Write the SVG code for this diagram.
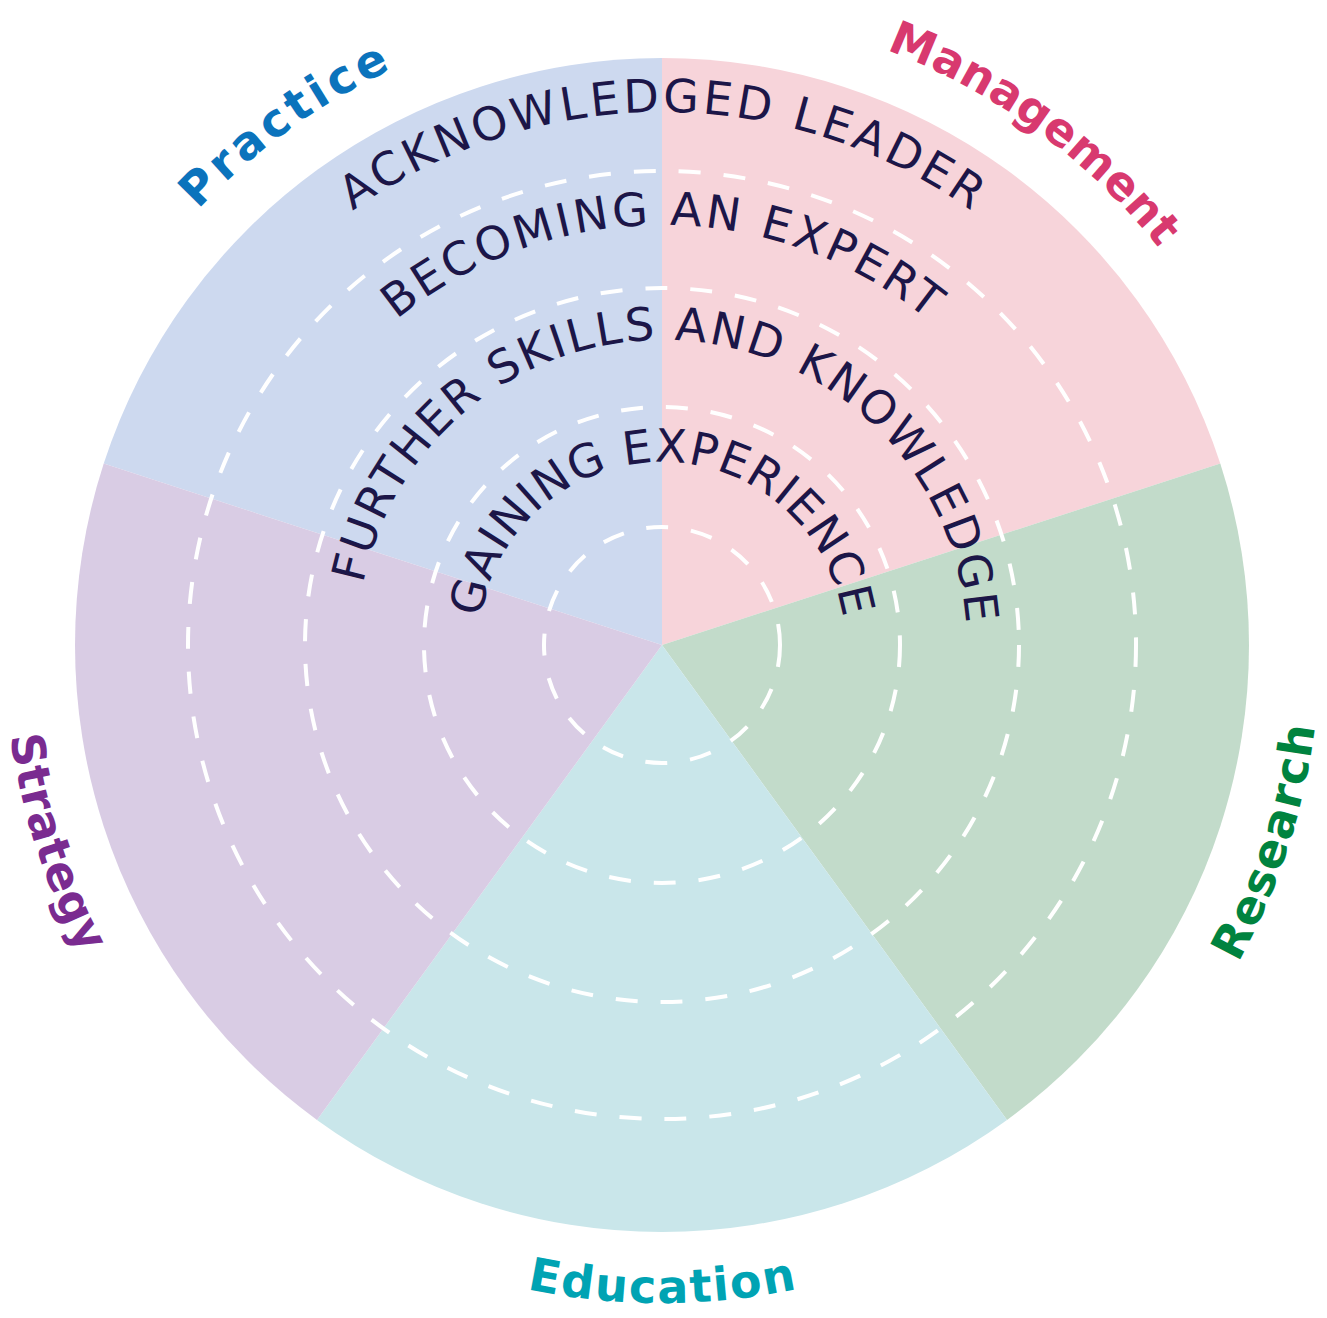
<svg xmlns="http://www.w3.org/2000/svg" xmlns:xlink="http://www.w3.org/1999/xlink" width="1327" height="1318" viewBox="0 0 1327 1318">
<style>
.ring{fill:none;stroke:#ffffff;stroke-width:4;stroke-dasharray:22 23}
.arc{font-family:"DejaVu Sans","Open Sans","Liberation Sans",sans-serif;font-size:46px;font-weight:400;fill:#1c1648;text-anchor:middle;font-variant-ligatures:none}
.lbl{font-family:"DejaVu Sans","Liberation Sans",sans-serif;font-size:46px;font-weight:700;text-anchor:middle;font-variant-ligatures:none}
</style>
<defs>
<path id="p1" d="M 570.5 803.48 A 183 183 0 0 1 662 462 A 183 183 0 0 1 753.5 803.48"/>
<path id="p2" d="M 509.5 909.13 A 305 305 0 0 1 662 340 A 305 305 0 0 1 814.5 909.13"/>
<path id="p3" d="M 452 1008.73 A 420 420 0 0 1 662 225 A 420 420 0 0 1 872 1008.73"/>
<path id="p4" d="M 395.5 1106.59 A 533 533 0 0 1 662 112 A 533 533 0 0 1 928.5 1106.59"/>
<path id="lp-practice" d="M 29.48 711.48 A 636 636 0 0 1 920.68 63.99"/>
<path id="lp-management" d="M 403.32 63.99 A 636 636 0 0 1 1294.52 711.48"/>
<path id="lp-education" d="M 92.16 974 A 658 658 0 0 0 1231.84 974"/>
<path id="lp-research" d="M 798.81 1288.62 A 658 658 0 0 0 1150.99 204.71"/>
<path id="lp-strategy" d="M 173.01 204.71 A 658 658 0 0 0 525.19 1288.62"/>
</defs>
<rect width="1327" height="1318" fill="#ffffff"/>
<g id="sectors">
<g id="practice"><path d="M 662 645 L 103.73 463.61 A 587 587 0 0 1 662 58 Z" fill="#cdd9ef"/></g>
<g id="management"><path d="M 662 645 L 662 58 A 587 587 0 0 1 1220.27 463.61 Z" fill="#f7d4da"/></g>
<g id="research"><path d="M 662 645 L 1220.27 463.61 A 587 587 0 0 1 1007.03 1119.89 Z" fill="#c2dbca"/></g>
<g id="education"><path d="M 662 645 L 1007.03 1119.89 A 587 587 0 0 1 316.97 1119.89 Z" fill="#c9e6ea"/></g>
<g id="strategy"><path d="M 662 645 L 316.97 1119.89 A 587 587 0 0 1 103.73 463.61 Z" fill="#d9cce4"/></g>
</g>
<g id="rings">
<circle class="ring" cx="662" cy="645" r="118"/>
<circle class="ring" cx="662" cy="645" r="238"/>
<circle class="ring" cx="662" cy="645" r="357"/>
<circle class="ring" cx="662" cy="645" r="474"/>
</g>
<g id="levels">
<g id="level1"><text class="arc"><textPath href="#p1" xlink:href="#p1" startOffset="50%" textLength="520" lengthAdjust="spacing">GAINING EXPERIENCE</textPath></text></g>
<g id="level2"><text class="arc"><textPath href="#p2" xlink:href="#p2" startOffset="818" textLength="875" lengthAdjust="spacing">FURTHER SKILLS AND KNOWLEDGE</textPath></text></g>
<g id="level3"><text class="arc"><textPath href="#p3" xlink:href="#p3" startOffset="50%" textLength="575" lengthAdjust="spacing">BECOMING AN EXPERT</textPath></text></g>
<g id="level4"><text class="arc"><textPath href="#p4" xlink:href="#p4" startOffset="50%" textLength="660" lengthAdjust="spacing">ACKNOWLEDGED LEADER</textPath></text></g>
</g>
<g id="labels">
<g id="label-practice"><text class="lbl" fill="#0b73bc"><textPath href="#lp-practice" xlink:href="#lp-practice" startOffset="50%" textLength="240" lengthAdjust="spacing">Practice</textPath></text></g>
<g id="label-management"><text class="lbl" fill="#d8396f"><textPath href="#lp-management" xlink:href="#lp-management" startOffset="50%" textLength="341" lengthAdjust="spacing">Management</textPath></text></g>
<g id="label-research"><text class="lbl" fill="#00833f"><textPath href="#lp-research" xlink:href="#lp-research" startOffset="50%" textLength="250" lengthAdjust="spacing">Research</textPath></text></g>
<g id="label-education"><text class="lbl" fill="#00a3b3"><textPath href="#lp-education" xlink:href="#lp-education" startOffset="50%" textLength="272" lengthAdjust="spacing">Education</textPath></text></g>
<g id="label-strategy"><text class="lbl" fill="#7a2b90"><textPath href="#lp-strategy" xlink:href="#lp-strategy" startOffset="50%" textLength="231" lengthAdjust="spacing">Strategy</textPath></text></g>
</g>
</svg>
